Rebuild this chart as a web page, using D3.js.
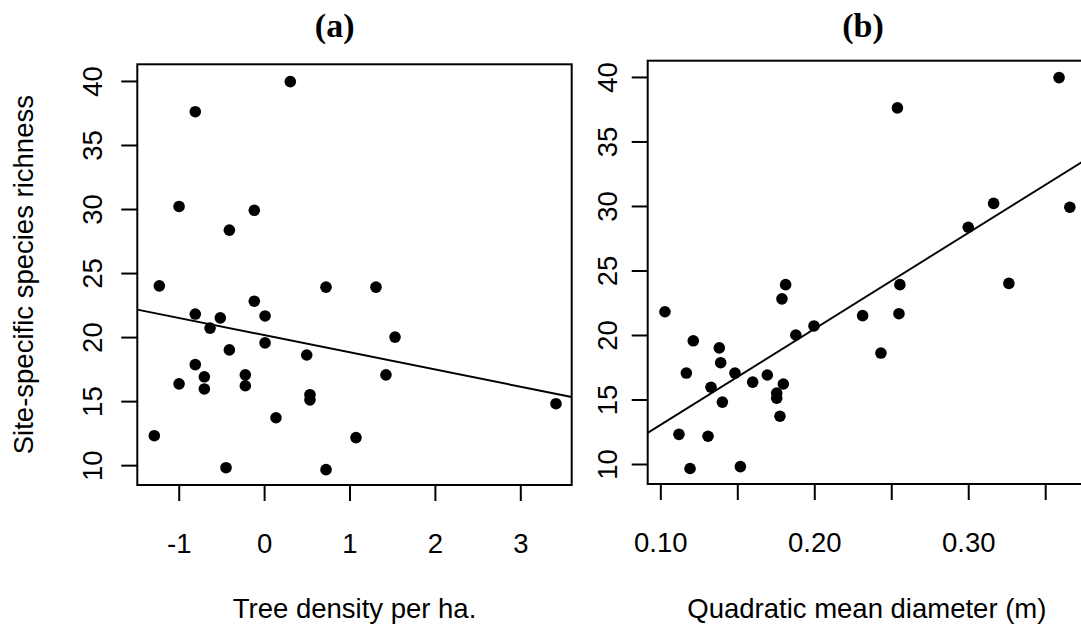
<!DOCTYPE html>
<html><head><meta charset="utf-8">
<script src="https://cdn.jsdelivr.net/npm/d3@7"></script>
<style>body{margin:0;background:#fff;} svg{display:block;}</style>
</head><body><svg id="chart" width="1081" height="628"></svg>
<script>
// ---- data ----
const richness = [39.95, 37.6, 30.2, 29.9, 28.35, 24.0, 23.9, 23.9, 22.8, 21.8, 21.65, 21.5, 20.7, 20.0, 19.55, 19.0, 18.6, 17.85, 17.05, 17.05, 16.9, 16.35, 16.2, 15.95, 15.5, 15.1, 14.8, 13.7, 12.3, 12.15, 9.8, 9.65];
const treeDensity = [0.307, -0.806, -0.996, -0.115, -0.407, -1.227, 0.725, 1.310, -0.115, -0.806, 0.011, -0.513, -0.633, 1.533, 0.011, -0.407, 0.499, -0.806, 1.427, -0.220, -0.700, -0.996, -0.220, -0.700, 0.537, 0.537, 3.418, 0.139, -1.286, 1.076, -0.446, 0.725];
const qmd = [0.359, 0.254, 0.3165, 0.366, 0.300, 0.3264, 0.2556, 0.1814, 0.179, 0.103, 0.255, 0.2314, 0.1998, 0.188, 0.1214, 0.1383, 0.2433, 0.1392, 0.1169, 0.1485, 0.1695, 0.160, 0.1799, 0.1329, 0.1756, 0.1756, 0.1403, 0.1777, 0.1121, 0.131, 0.152, 0.1193];
const yTicks = [10, 15, 20, 25, 30, 35, 40];
const xTicksA = [-1, 0, 1, 2, 3];
const xTickLabelsA = ["-1", "0", "1", "2", "3"];
const xTicksB = [0.10, 0.15, 0.20, 0.25, 0.30, 0.35];
const xTickLabelsB = ["0.10", "", "0.20", "", "0.30", ""];
const panelTitles = ["(a)", "(b)"];
const xTitles = ["Tree density per ha.", "Quadratic mean diameter (m)"];
const yTitle = "Site-specific species richness";

// ---- layout ----
const FONT = "'Liberation Sans', Arial, Helvetica, sans-serif";
const FS = 27.5;
const panels = [
  { left: 137.3, right: 571.7, top: 64.3, bottom: 485, xDomain: [-1.485, 3.602], yDomain: [8.45, 41.3],
    xs: treeDensity, xTicks: xTicksA, xLabels: xTickLabelsA, title: panelTitles[0], titleX: 334.7, xTitle: xTitles[0], yLabOff: 35.5 },
  { left: 647.7, right: 1086, top: 60.7, bottom: 484, xDomain: [0.0918, 0.3765], yDomain: [8.45, 41.26],
    xs: qmd, xTicks: xTicksB, xLabels: xTickLabelsB, title: panelTitles[1], titleX: 863, xTitle: xTitles[1], yLabOff: 31 }
];

const svg = d3.select("#chart");
svg.append("rect").attr("width", 1081).attr("height", 628).attr("fill", "#fff");

function ols(xs, ys) {
  const mx = d3.mean(xs), my = d3.mean(ys);
  let sxy = 0, sxx = 0;
  xs.forEach((x, i) => { sxy += (x - mx) * (ys[i] - my); sxx += (x - mx) * (x - mx); });
  const b = sxy / sxx;
  return { a: my - b * mx, b };
}

panels.forEach((p, k) => {
  const x = d3.scaleLinear().domain(p.xDomain).range([p.left, p.right]);
  const y = d3.scaleLinear().domain(p.yDomain).range([p.bottom, p.top]);
  const g = svg.append("g");

  const clipId = "clip" + k;
  svg.append("clipPath").attr("id", clipId).append("rect")
    .attr("x", p.left).attr("y", p.top).attr("width", p.right - p.left).attr("height", p.bottom - p.top);

  // x axis
  const xa = g.append("g").attr("transform", `translate(0,${p.bottom})`)
    .call(d3.axisBottom(x).tickValues(p.xTicks).tickSize(16).tickPadding(32)
      .tickFormat((d, i) => p.xLabels[i]));
  xa.select(".domain").remove();
  xa.selectAll("line").attr("stroke", "#000").attr("stroke-width", 2);
  xa.selectAll("text").attr("font-family", FONT).attr("font-size", FS).attr("fill", "#000");

  // y axis
  const ya = g.append("g").attr("transform", `translate(${p.left},0)`)
    .call(d3.axisLeft(y).tickValues(yTicks).tickSize(16).tickFormat(d3.format("d")));
  ya.select(".domain").remove();
  ya.selectAll("line").attr("stroke", "#000").attr("stroke-width", 2);
  ya.selectAll("text").attr("x", null).attr("dy", null).attr("text-anchor", "middle")
    .attr("transform", `translate(${-p.yLabOff},0) rotate(-90)`)
    .attr("font-family", FONT).attr("font-size", FS).attr("fill", "#000");

  // regression line
  const fit = ols(p.xs, richness);
  g.append("line").attr("clip-path", `url(#${clipId})`)
    .attr("x1", x(p.xDomain[0])).attr("y1", y(fit.a + fit.b * p.xDomain[0]))
    .attr("x2", x(p.xDomain[1])).attr("y2", y(fit.a + fit.b * p.xDomain[1]))
    .attr("stroke", "#000").attr("stroke-width", 1.9);

  // points
  g.append("g").selectAll("circle").data(p.xs).join("circle")
    .attr("cx", d => x(d)).attr("cy", (d, i) => y(richness[i])).attr("r", 5.8).attr("fill", "#000");

  // box
  g.append("rect").attr("x", p.left).attr("y", p.top)
    .attr("width", p.right - p.left).attr("height", p.bottom - p.top)
    .attr("fill", "none").attr("stroke", "#000").attr("stroke-width", 2);

  // panel title
  svg.append("text").attr("x", p.titleX).attr("y", 37).attr("text-anchor", "middle")
    .attr("font-family", "'Liberation Serif', 'Times New Roman', serif").attr("font-weight", "bold")
    .attr("font-size", 34).text(p.title);

  // x title
  svg.append("text").attr("x", (p.left + p.right) / 2).attr("y", 618).attr("text-anchor", "middle")
    .attr("font-family", FONT).attr("font-size", FS).text(p.xTitle);
});

// y title
const p0 = panels[0];
svg.append("text").attr("transform", `translate(33,${(p0.top + p0.bottom) / 2}) rotate(-90)`)
  .attr("text-anchor", "middle").attr("font-family", FONT).attr("font-size", FS).text(yTitle);
</script>
</body></html>
